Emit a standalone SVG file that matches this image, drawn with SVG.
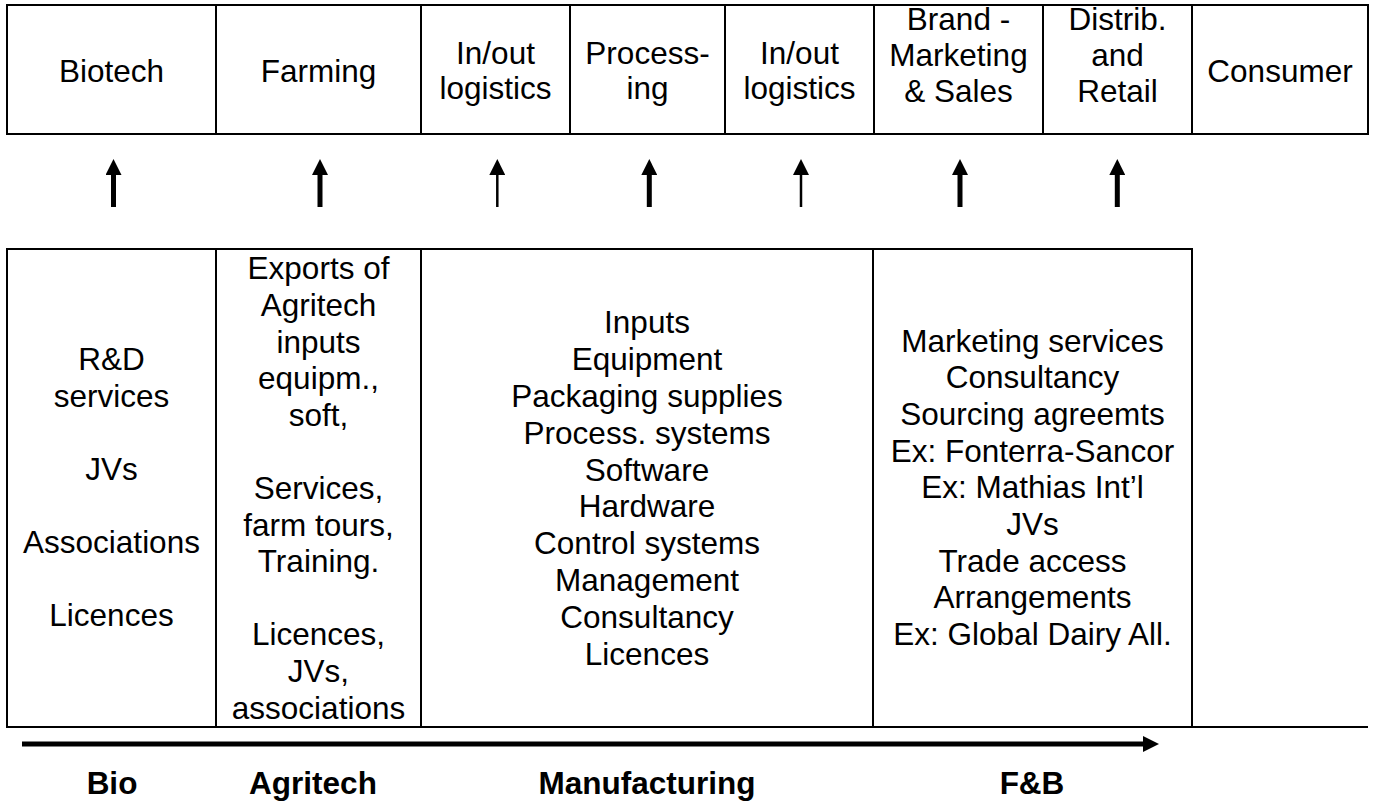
<svg xmlns="http://www.w3.org/2000/svg" width="1376" height="804" viewBox="0 0 1376 804">
  <defs>
    <style>
      .cell { fill: #ffffff; stroke: #000000; stroke-width: 2; }
      .rule { stroke: #000000; stroke-width: 2; fill: none; }
      .lbl { font-family: "Liberation Sans", Arial, Helvetica, sans-serif; font-size: 31.5px; fill: #000000; text-anchor: middle; }
      .cat { font-family: "Liberation Sans", Arial, Helvetica, sans-serif; font-size: 31.5px; font-weight: bold; fill: #000000; text-anchor: middle; }
      .up-thick { stroke: #000000; stroke-width: 5; fill: none; }
      .up-thin { stroke: #000000; stroke-width: 2.5; fill: none; }
      .flow { stroke: #000000; stroke-width: 5; fill: none; }
    </style>
    <marker id="head" viewBox="0 0 16 16" refX="0" refY="8" markerWidth="16" markerHeight="16" markerUnits="userSpaceOnUse" orient="auto">
      <path d="M0,0 L16,8 L0,16 Z" fill="#000000"/>
    </marker>
  </defs>

  <rect width="1376" height="804" fill="#ffffff"/>

  <!-- Value chain stages (top row) -->
  <g id="stage-biotech">
    <rect class="cell" x="7" y="5" width="209" height="129"/>
    <text class="lbl" x="111.5" y="81.5">Biotech</text>
  </g>
  <g id="stage-farming">
    <rect class="cell" x="216" y="5" width="205" height="129"/>
    <text class="lbl" x="318.5" y="81.5">Farming</text>
  </g>
  <g id="stage-logistics-in">
    <rect class="cell" x="421" y="5" width="149" height="129"/>
    <text class="lbl" x="495.5" y="63.5">In/out</text>
    <text class="lbl" x="495.5" y="99">logistics</text>
  </g>
  <g id="stage-processing">
    <rect class="cell" x="570" y="5" width="155" height="129"/>
    <text class="lbl" x="647.5" y="63.5">Process-</text>
    <text class="lbl" x="647.5" y="99">ing</text>
  </g>
  <g id="stage-logistics-out">
    <rect class="cell" x="725" y="5" width="149" height="129"/>
    <text class="lbl" x="799.5" y="63.5">In/out</text>
    <text class="lbl" x="799.5" y="99">logistics</text>
  </g>
  <g id="stage-brand">
    <rect class="cell" x="874" y="5" width="169" height="129"/>
    <text class="lbl" x="958.5" y="29.5">Brand -</text>
    <text class="lbl" x="958.5" y="65.5">Marketing</text>
    <text class="lbl" x="958.5" y="101.5">&amp; Sales</text>
  </g>
  <g id="stage-retail">
    <rect class="cell" x="1043" y="5" width="149" height="129"/>
    <text class="lbl" x="1117.5" y="29.5">Distrib.</text>
    <text class="lbl" x="1117.5" y="65.5">and</text>
    <text class="lbl" x="1117.5" y="101.5">Retail</text>
  </g>
  <g id="stage-consumer">
    <rect class="cell" x="1192" y="5" width="176" height="129"/>
    <text class="lbl" x="1280" y="81.5">Consumer</text>
  </g>

  <!-- Export offerings per sector (bottom table) -->
  <g id="offer-bio">
    <rect class="cell" x="7" y="249" width="209" height="478"/>
    <text class="lbl" x="111.5" y="370">R&amp;D</text>
    <text class="lbl" x="111.5" y="406.5">services</text>
    <text class="lbl" x="111.5" y="479.5">JVs</text>
    <text class="lbl" x="111.5" y="552.5">Associations</text>
    <text class="lbl" x="111.5" y="625.5">Licences</text>
  </g>
  <g id="offer-agritech">
    <rect class="cell" x="216" y="249" width="205" height="478"/>
    <text class="lbl" x="318.5" y="279.3">Exports of</text>
    <text class="lbl" x="318.5" y="315.9">Agritech</text>
    <text class="lbl" x="318.5" y="352.5">inputs</text>
    <text class="lbl" x="318.5" y="389.1">equipm.,</text>
    <text class="lbl" x="318.5" y="425.7">soft,</text>
    <text class="lbl" x="318.5" y="498.9">Services,</text>
    <text class="lbl" x="318.5" y="535.5">farm tours,</text>
    <text class="lbl" x="318.5" y="572.1">Training.</text>
    <text class="lbl" x="318.5" y="645.3">Licences,</text>
    <text class="lbl" x="318.5" y="681.9">JVs,</text>
    <text class="lbl" x="318.5" y="718.5">associations</text>
  </g>
  <g id="offer-manufacturing">
    <rect class="cell" x="421" y="249" width="452" height="478"/>
    <text class="lbl" x="647" y="333.3">Inputs</text>
    <text class="lbl" x="647" y="370.1">Equipment</text>
    <text class="lbl" x="647" y="406.9">Packaging supplies</text>
    <text class="lbl" x="647" y="443.7">Process. systems</text>
    <text class="lbl" x="647" y="480.5">Software</text>
    <text class="lbl" x="647" y="517.3">Hardware</text>
    <text class="lbl" x="647" y="554.1">Control systems</text>
    <text class="lbl" x="647" y="590.9">Management</text>
    <text class="lbl" x="647" y="627.7">Consultancy</text>
    <text class="lbl" x="647" y="664.5">Licences</text>
  </g>
  <g id="offer-fb">
    <rect class="cell" x="873" y="249" width="319" height="478"/>
    <text class="lbl" x="1032.5" y="351.7">Marketing services</text>
    <text class="lbl" x="1032.5" y="388.4">Consultancy</text>
    <text class="lbl" x="1032.5" y="425">Sourcing agreemts</text>
    <text class="lbl" x="1032.5" y="461.7">Ex: Fonterra-Sancor</text>
    <text class="lbl" x="1032.5" y="498.3">Ex: Mathias Int’l</text>
    <text class="lbl" x="1032.5" y="535">JVs</text>
    <text class="lbl" x="1032.5" y="571.6">Trade access</text>
    <text class="lbl" x="1032.5" y="608.3">Arrangements</text>
    <text class="lbl" x="1032.5" y="645">Ex: Global Dairy All.</text>
  </g>
  <g id="table-base">
    <line class="rule" x1="7" y1="727" x2="1368" y2="727"/>
  </g>

  <!-- Connectors: offerings feeding each stage, and the overall flow -->
  <g id="connectors">
    <line class="up-thick" x1="113.5" y1="207" x2="113.5" y2="175" marker-end="url(#head)"/>
    <line class="up-thick" x1="320" y1="207" x2="320" y2="175" marker-end="url(#head)"/>
    <line class="up-thin" x1="497.3" y1="207" x2="497.3" y2="175" marker-end="url(#head)"/>
    <line class="up-thick" x1="649.3" y1="207" x2="649.3" y2="175" marker-end="url(#head)"/>
    <line class="up-thin" x1="801" y1="207" x2="801" y2="175" marker-end="url(#head)"/>
    <line class="up-thick" x1="960" y1="207" x2="960" y2="175" marker-end="url(#head)"/>
    <line class="up-thick" x1="1117.3" y1="207" x2="1117.3" y2="175" marker-end="url(#head)"/>
    <line class="flow" x1="22" y1="744" x2="1143" y2="744" marker-end="url(#head)"/>
  </g>

  <!-- Sector labels -->
  <g id="sector-labels">
    <text class="cat" x="112" y="794">Bio</text>
    <text class="cat" x="313" y="794">Agritech</text>
    <text class="cat" x="647" y="794">Manufacturing</text>
    <text class="cat" x="1032" y="794">F&amp;B</text>
  </g>
</svg>
